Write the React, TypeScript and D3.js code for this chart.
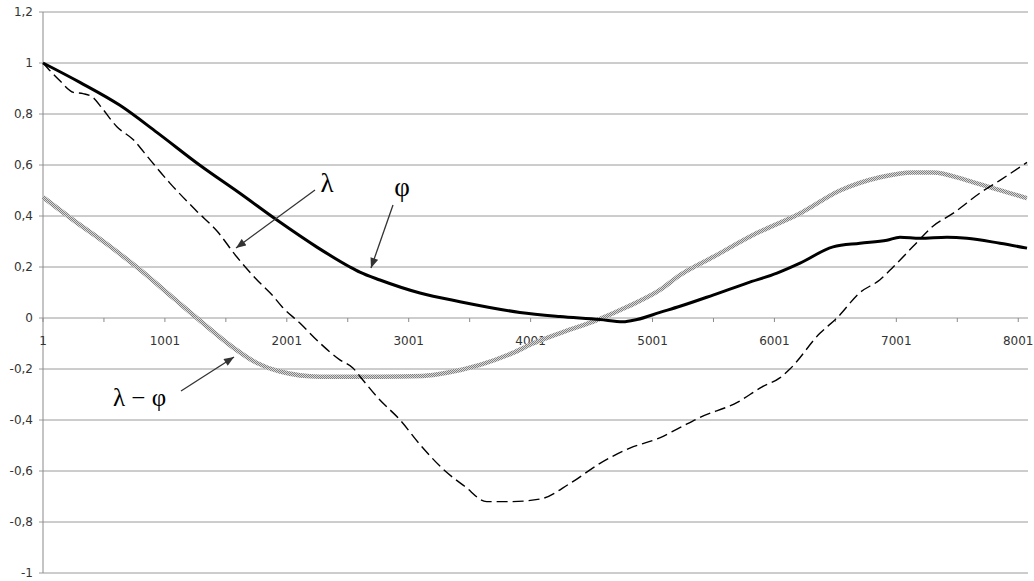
import React from 'react';
import * as d3 from 'd3';

// φ (solid)
const phiX = [1, 304, 632, 935, 1288, 1616, 1920, 2248, 2519, 2600, 2765, 3093, 3421, 3913, 4241, 4569, 4758, 4873, 5062, 5226, 5497, 5776, 6022, 6211, 6482, 6703, 6924, 7031, 7195, 7416, 7580, 7851, 8073];
const phiY = [1.0, 0.924, 0.834, 0.728, 0.599, 0.489, 0.384, 0.278, 0.2, 0.18, 0.149, 0.098, 0.064, 0.022, 0.006, -0.006, -0.015, -0.006, 0.022, 0.046, 0.09, 0.137, 0.176, 0.215, 0.279, 0.293, 0.305, 0.317, 0.313, 0.317, 0.313, 0.293, 0.274];

// λ (dashed)
const lamX = [1, 140, 250, 330, 410, 490, 607, 740, 880, 1040, 1260, 1430, 1590, 1755, 1890, 1960, 2108, 2272, 2436, 2543, 2625, 2748, 2930, 3100, 3300, 3460, 3640, 3830, 4080, 4320, 4570, 4815, 5060, 5225, 5390, 5700, 5900, 6045, 6128, 6374, 6514, 6703, 6867, 6975, 7137, 7301, 7465, 7687, 7851, 8073];
const lamY = [1.0, 0.93, 0.885, 0.88, 0.865, 0.82, 0.75, 0.7, 0.62, 0.53, 0.42, 0.34, 0.24, 0.15, 0.085, 0.045, -0.02, -0.098, -0.164, -0.196, -0.243, -0.313, -0.4, -0.5, -0.6, -0.66, -0.72, -0.72, -0.71, -0.65, -0.57, -0.51, -0.47, -0.43, -0.39, -0.33, -0.27, -0.235, -0.2, -0.06, 0, 0.1, 0.15, 0.2, 0.28, 0.36, 0.41, 0.49, 0.54, 0.61];

// λ − φ (gray textured)
const diffX = [1, 250, 525, 795, 1066, 1263, 1559, 1750, 1945, 2272, 2765, 3118, 3314, 3585, 3856, 4020, 4266, 4545, 4790, 5062, 5226, 5497, 5857, 6210, 6539, 6867, 7137, 7301, 7580, 7793, 8073];
const diffY = [0.474, 0.384, 0.29, 0.19, 0.08, 0.0, -0.115, -0.175, -0.21, -0.23, -0.23, -0.227, -0.215, -0.184, -0.137, -0.1, -0.055, -0.008, 0.043, 0.11, 0.168, 0.239, 0.333, 0.41, 0.5, 0.552, 0.571, 0.571, 0.54, 0.509, 0.47];

const yTicks = [-1, -0.8, -0.6, -0.4, -0.2, 0, 0.2, 0.4, 0.6, 0.8, 1, 1.2];
const yTickLabels = ['-1', '-0,8', '-0,6', '-0,4', '-0,2', '0', '0,2', '0,4', '0,6', '0,8', '1', '1,2'];
const xLabelVals = [1, 1001, 2001, 3001, 4001, 5001, 6001, 7001, 8001];
const xLabels = ['1', '1001', '2001', '3001', '4001', '5001', '6001', '7001', '8001'];
const xMinorTicks = [1, 501, 1001, 1501, 2001, 2501, 3001, 3501, 4001, 4501, 5001, 5501, 6001, 6501, 7001, 7501, 8001];

export default function App() {
  const W = 1034, H = 581;
  const x = d3.scaleLinear().domain([1, 8081]).range([43, 1028]);
  const y = d3.scaleLinear().domain([-1, 1.2]).range([573, 12]);

  const mk = (xs: number[], ys: number[]) =>
    d3.line<number>().x((_, i) => x(xs[i])).y((d) => y(d)).curve(d3.curveMonotoneX)(ys) || '';

  const phiPath = mk(phiX, phiY);
  const lamPath = mk(lamX, lamY);
  const diffPath = mk(diffX, diffY);
  const y0 = y(0);

  return (
    <div style={{ position: 'absolute', left: 0, top: 0, width: W, height: H, background: '#fff' }}>
      <svg width={W} height={H} style={{ display: 'block' }}>
        <defs>
          <pattern id="tex" width="2" height="2" patternUnits="userSpaceOnUse">
            <rect width="2" height="2" fill="#dadada" />
            <rect width="1" height="1" fill="#808080" />
            <rect x="1" y="1" width="1" height="1" fill="#808080" />
          </pattern>
          <marker id="arr" viewBox="0 0 10 8" refX="10" refY="4" markerWidth="11" markerHeight="8" markerUnits="userSpaceOnUse" orient="auto">
            <path d="M0,0 L10,4 L0,8 Z" fill="#333" />
          </marker>
        </defs>
        <rect width={W} height={H} fill="#fff" />
        {yTicks.map((t) => (
          <line key={'g' + t} x1={39} x2={1028} y1={y(t)} y2={y(t)} stroke="#9a9a9a" strokeWidth={1} />
        ))}
        <line x1={43} x2={43} y1={y(1.2)} y2={y(-1)} stroke="#8a8a8a" strokeWidth={1} />
        {xMinorTicks.map((t) => (
          <line key={'t' + t} x1={x(t)} x2={x(t)} y1={y0} y2={y0 + 4} stroke="#8a8a8a" strokeWidth={1} />
        ))}
        {yTicks.map((t, i) => (
          <text key={'yl' + t} x={33} y={y(t)} dy="0.35em" textAnchor="end" fontFamily="DejaVu Sans" fontSize={12} fill="#333">
            {yTickLabels[i]}
          </text>
        ))}
        {xLabelVals.map((v, i) => (
          <text key={'xl' + v} x={x(v)} y={y0 + 27} textAnchor="middle" fontFamily="DejaVu Sans" fontSize={12} fill="#333">
            {xLabels[i]}
          </text>
        ))}
        <path d={diffPath} fill="none" stroke="url(#tex)" strokeWidth={4.5} />
        <path d={phiPath} fill="none" stroke="#000" strokeWidth={3} strokeLinejoin="round" />
        <path d={lamPath} fill="none" stroke="#000" strokeWidth={1.4} strokeDasharray="11,5" />
        <line x1={315} y1={190} x2={236} y2={248} stroke="#333" strokeWidth={1.3} markerEnd="url(#arr)" />
        <text x={327} y={192} textAnchor="middle" fontFamily="Liberation Serif" fontSize={27} fill="#000">λ</text>
        <line x1={393} y1={205} x2={371} y2={268} stroke="#333" strokeWidth={1.3} markerEnd="url(#arr)" />
        <text x={402} y={196} textAnchor="middle" fontFamily="Liberation Serif" fontSize={27} fill="#000">φ</text>
        <line x1={181} y1={391} x2={234} y2={357} stroke="#333" strokeWidth={1.3} markerEnd="url(#arr)" />
        <text x={113} y={406} textAnchor="start" fontFamily="Liberation Serif" fontSize={25} fill="#000">λ − φ</text>
      </svg>
    </div>
  );
}
